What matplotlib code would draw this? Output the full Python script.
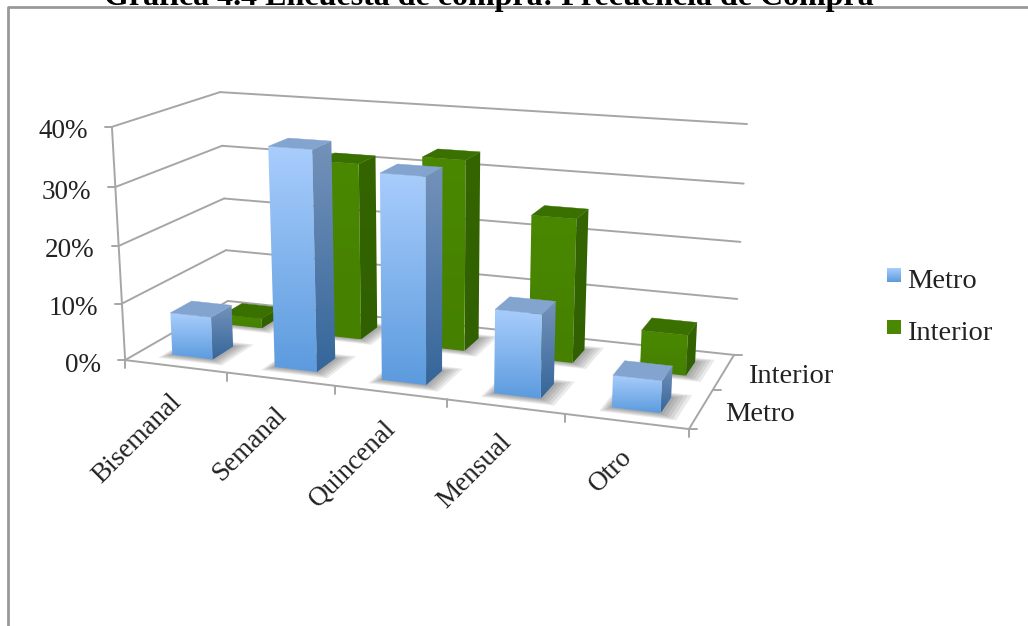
import numpy as np
import matplotlib
matplotlib.use("Agg")
import matplotlib.pyplot as plt
from matplotlib.patches import Polygon

categories = ["Bisemanal", "Semanal", "Quincenal", "Mensual", "Otro"]
series_names = ["Metro", "Interior"]
metro = [7.5, 37.5, 34.5, 14, 5.3]
interior = [1.8, 31.5, 33.5, 25, 7]
y_ticks = [0, 10, 20, 30, 40]
title = "Gráfica 4.4 Encuesta de compra: Frecuencia de Compra"

# picture corners of the 3d box: (categories, depth, percent) -> pixel
box_pts = [(0, 0, 0), (1, 0, 0), (1, 1, 0), (0, 1, 0), (0, 0, 40), (1, 1, 40), (0, 1, 40)]
box_px = [(125, 360), (689, 429), (734, 355), (228, 301), (112, 127), (747, 124), (220, 92)]

rows = []
for (a, b, c), (px, py) in zip(box_pts, box_px):
    p = [a, b, c / 40, 1]
    rows.append(p + [0, 0, 0, 0] + [-px * q for q in p])
    rows.append([0, 0, 0, 0] + p + [-py * q for q in p])
proj = np.linalg.svd(np.array(rows, dtype=float))[2][-1].reshape(3, 4)


def pt(u, v, h=0):
    q = proj @ np.array([u, v, h / 40, 1])
    return q[0] / q[2], q[1] / q[2]


fig = plt.figure(figsize=(10.28, 6.26), dpi=100)
ax = fig.add_axes([0, 0, 1, 1])
ax.set_xlim(0, 1028)
ax.set_ylim(626, 0)
ax.set_autoscale_on(False)
ax.axis("off")

grey = "#a6a6a6"
ink = "#222222"
serif = "Liberation Serif"


def line(p1, p2, lw=1.4, color=grey):
    ax.plot([p1[0], p2[0]], [p1[1], p2[1]], color=color, lw=lw, solid_capstyle="round", zorder=1)


def grad_face(poly, c_top, c_bot, zorder=4):
    # vertical gradient clipped to the face
    poly = np.array(poly)
    c1 = np.array(matplotlib.colors.to_rgb(c_top))
    c2 = np.array(matplotlib.colors.to_rgb(c_bot))
    arr = np.linspace(c1, c2, 64).reshape(64, 1, 3)
    extent = (poly[:, 0].min(), poly[:, 0].max(), poly[:, 1].max(), poly[:, 1].min())
    im = ax.imshow(arr, extent=extent, aspect="auto", interpolation="bilinear", zorder=zorder)
    im.set_clip_path(Polygon(poly, transform=ax.transData))


# frame and title
ax.plot([8, 8, 1028], [626, 7, 7], color="#999999", lw=2, zorder=1)
ax.text(489, 5, title, family=serif, weight="bold", fontsize=23, ha="center", va="baseline", zorder=5)

# walls and floor
for t in y_ticks:
    line(pt(0, 0, t), pt(0, 1, t))
    line(pt(0, 1, t), pt(1, 1, t))
    tick = pt(0, 0, t)
    line(tick, (tick[0] - 7, tick[1]))
    ax.text(tick[0] - 24, tick[1] + 5, f"{t}%", family=serif, fontsize=19.5, color=ink,
            ha="right", va="center")
line(pt(0, 0, 0), pt(0, 0, 40))
line(pt(0, 0), pt(1, 0))
line(pt(1, 0), pt(1, 1))

for i in range(len(categories) + 1):
    tick = pt(i / 5, 0)
    line(tick, (tick[0], tick[1] + 8))
for i, name in enumerate(categories):
    p = pt((i + 0.5) / 5, 0)
    ax.text(p[0] + 2, p[1] + 32, name, family=serif, fontsize=19.5, color=ink, rotation=45,
            rotation_mode="anchor", ha="right", va="center")
for v in [0, 0.5, 1]:
    tick = pt(1, v)
    line(tick, (tick[0] + 8, tick[1]))
for name, v, dx, dy in [("Metro", 0.25, 24, 6), ("Interior", 0.75, 24, 5)]:
    p = pt(1, v)
    ax.text(p[0] + dx, p[1] + dy, name, family=serif, fontsize=20.5, color=ink, ha="left", va="center")


def bar_3d(i, row, val, front, side, top):
    u0, u1 = (i + 0.3) / 5 + 0.003, (i + 0.7) / 5 + 0.003
    v0, v1 = row + 0.14, row + 0.34
    # soft shadow on the floor
    for k in range(1, 6):
        du, dv = 0.003 * k, 0.012 * k
        shadow = [pt(u0 - du, v0 - dv), pt(u1 + du * 2, v0 - dv),
                  pt(u1 + du * 2, v1 + dv), pt(u0 - du, v1 + dv)]
        ax.add_patch(Polygon(shadow, fc="#444444", ec="none", alpha=0.11, zorder=2))
    grad_face([pt(u0, v0, 0), pt(u1, v0, 0), pt(u1, v0, val), pt(u0, v0, val)], front[0], front[1])
    grad_face([pt(u1, v0, 0), pt(u1, v1, 0), pt(u1, v1, val), pt(u1, v0, val)], side[0], side[1])
    ax.add_patch(Polygon([pt(u0, v0, val), pt(u1, v0, val), pt(u1, v1, val), pt(u0, v1, val)],
                         fc=top, ec=top, lw=0.3, zorder=4))


blue = (("#a8cdfc", "#5c9bde"), ("#7492ba", "#35669a"), "#83a4cf")
green = (("#4a8800", "#458000"), ("#346500", "#306000"), "#3a7000")

for i, val in enumerate(interior):
    bar_3d(i, 0.5, val, green[0], green[1], green[2])
for i, val in enumerate(metro):
    bar_3d(i, 0, val, blue[0], blue[1], blue[2])

# legend
for y, name, c1, c2 in [(268, series_names[0], "#a8cdfc", "#5c9bde"), (320, series_names[1], "#4a8800", "#4a8800")]:
    grad_face([(887, y), (901, y), (901, y + 14), (887, y + 14)], c1, c2)
    ax.text(907, y + 13, name, family=serif, fontsize=20.5, color=ink, ha="left", va="center")

fig.savefig("out.png", dpi=100)
